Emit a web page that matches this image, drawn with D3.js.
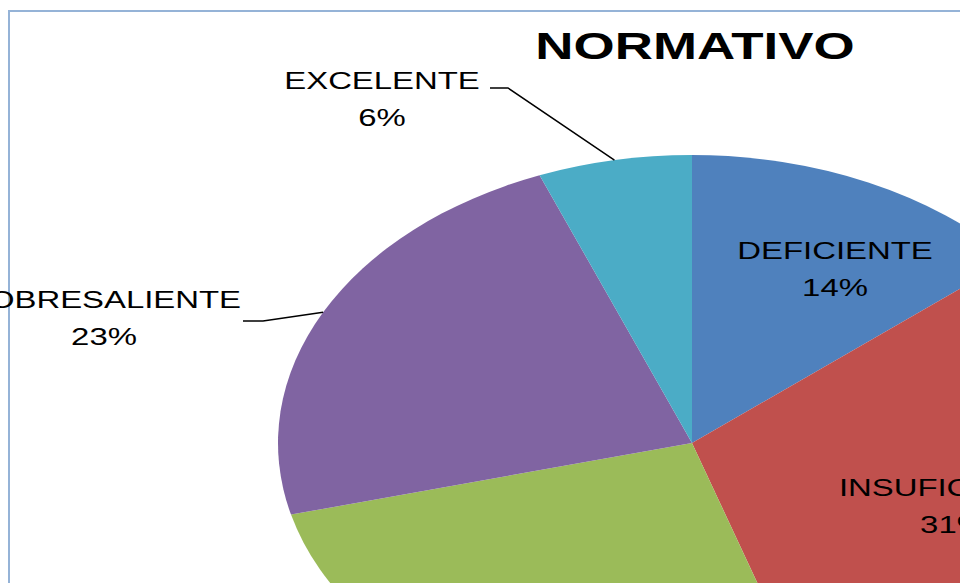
<!DOCTYPE html>
<html>
<head>
<meta charset="utf-8">
<script src="https://cdn.jsdelivr.net/npm/d3@7"></script>
<style>
    body { margin: 0; background: #fff; overflow: hidden; }
    svg { display: block; }
</style>
</head>
<body>
<svg id="chart" width="960" height="583"></svg>
<script>
// Datos
const categorias = ["DEFICIENTE", "INSUFICIENTE", "SUFICIENTE", "SOBRESALIENTE", "EXCELENTE"];
const porcentajes = [14, 31, 26, 23, 6];
const colores = ["#4F81BD", "#C0504D", "#9BBB59", "#8064A2", "#4BACC6"];
const titulo = "NORMATIVO";

// Posicion de las etiquetas (centro, linea base de la primera linea) y si llevan linea guia
const etiquetas = [
    { x: 835, y: 259, guia: null },
    { x: 953, y: 496, guia: null },
    { x: 520, y: 680, guia: null },
    { x: 104, y: 308, guia: { x0: 243, x1: 263, y: 321 } },
    { x: 382, y: 89, guia: { x0: 490, x1: 508, y: 88 } }
];

const width = 960,
    height = 583;
const cx = 692,
    cy = 443,
    r = 288,
    sx = 1.4375; // el pastel esta estirado en horizontal

const svg = d3.select("#chart");

// Borde del area del grafico
svg.append("rect")
    .attr("x", 9)
    .attr("y", 11)
    .attr("width", 1000)
    .attr("height", 700)
    .attr("fill", "none")
    .attr("stroke", "#95B3D7")
    .attr("stroke-width", 2)

const pie = d3.pie()
    .sort(null)
    .value(d => d)

const arcs = pie(porcentajes);

const arc = d3.arc()
    .innerRadius(0)
    .outerRadius(r)

const g = svg.append("g")
    .attr("transform", `translate(${cx},${cy}) scale(${sx},1)`)

g.selectAll("path")
    .data(arcs)
    .enter()
    .append("path")
    .attr("d", arc)
    .attr("fill", (d, i) => colores[i])

// Titulo
svg.append("text")
    .attr("transform", `translate(695,59) scale(1.47,1)`)
    .attr("text-anchor", "middle")
    .style("font-family", "Liberation Sans, Arial, sans-serif")
    .style("font-weight", "bold")
    .style("font-size", "36px")
    .text(titulo)

// Etiquetas
arcs.forEach((d, i) => {
    const pos = etiquetas[i];
    const lineas = [categorias[i], porcentajes[i] + "%"];
    lineas.forEach((t, j) => {
        svg.append("text")
            .attr("transform", `translate(${pos.x},${pos.y + j * 37}) scale(1.37,1)`)
            .attr("text-anchor", "middle")
            .style("font-family", "Liberation Sans, Arial, sans-serif")
            .style("font-size", "24px")
            .style("fill", "#000")
            .text(t)
    })

    if (pos.guia) {
        const a = (d.startAngle + d.endAngle) / 2;
        const ex = cx + r * sx * Math.sin(a),
            ey = cy - r * Math.cos(a);
        svg.append("polyline")
            .attr("points", `${pos.guia.x0},${pos.guia.y} ${pos.guia.x1},${pos.guia.y} ${ex},${ey}`)
            .attr("fill", "none")
            .attr("stroke", "#000")
            .attr("stroke-width", 1.5)
    }
})
</script>
</body>
</html>
